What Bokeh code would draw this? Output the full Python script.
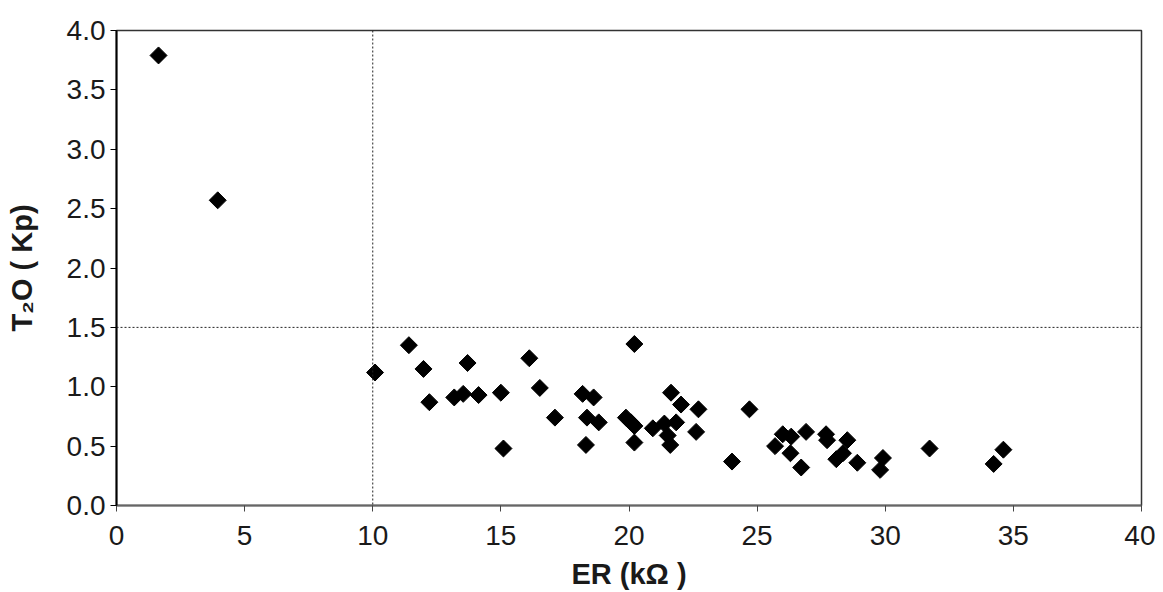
from bokeh.plotting import figure
from bokeh.models import Span, Range1d, SingleIntervalTicker, NumeralTickFormatter
from bokeh.embed import file_html
from bokeh.resources import INLINE
import math

er_kohm = [1.64, 3.95, 10.09, 11.41, 11.98, 12.21, 13.18, 13.53, 13.70, 14.13,
           15.00, 15.10, 16.11, 16.52, 17.11, 18.19, 18.62, 18.36, 18.82, 18.32,
           20.21, 19.88, 20.08, 20.21, 20.21, 20.93, 21.38, 21.64, 21.84, 22.03,
           21.51, 21.61, 22.71, 22.62, 24.02, 24.70, 25.70, 26.00, 26.33, 26.30,
           26.72, 26.91, 27.69, 27.73, 28.52, 28.09, 28.35, 28.91, 29.91, 29.80,
           31.73, 34.23, 34.61]
t2o_kp = [3.79, 2.57, 1.12, 1.35, 1.15, 0.87, 0.91, 0.94, 1.20, 0.93,
          0.95, 0.48, 1.24, 0.99, 0.74, 0.94, 0.91, 0.74, 0.70, 0.51,
          1.36, 0.74, 0.70, 0.67, 0.53, 0.65, 0.69, 0.95, 0.70, 0.85,
          0.59, 0.51, 0.81, 0.62, 0.37, 0.81, 0.50, 0.60, 0.58, 0.44,
          0.32, 0.62, 0.60, 0.55, 0.55, 0.39, 0.44, 0.36, 0.40, 0.30,
          0.48, 0.35, 0.47]
er_threshold = 10
t2o_threshold = 1.5

p = figure(width=1155, height=592, output_backend="svg", toolbar_location=None,
           frame_width=1025, frame_height=475,
           x_range=Range1d(0, 40), y_range=Range1d(0, 4.0),
           min_border_left=116, min_border_right=14, min_border_top=30,
           min_border_bottom=87)
p.grid.visible = False
p.background_fill_color = "white"
p.border_fill_color = "white"
p.outline_line_color = "#333333"
p.outline_line_width = 1.5

p.xaxis.ticker = SingleIntervalTicker(interval=5)
p.yaxis.ticker = SingleIntervalTicker(interval=0.5)
p.yaxis.formatter = NumeralTickFormatter(format="0.0")

for ax in (p.xaxis, p.yaxis):
    ax.minor_tick_line_color = None
    ax.major_tick_in = 0
    ax.major_tick_out = 6
    ax.major_label_text_font = "Liberation Sans"
    ax.major_label_text_font_size = "28px"
    ax.major_label_text_color = "#1a1a1a"
    ax.axis_label_text_font = "Liberation Sans"
    ax.axis_label_text_font_style = "bold"
    ax.axis_label_text_font_size = "29px"
    ax.axis_label_text_color = "#1a1a1a"
    ax.axis_line_width = 2

p.xaxis.axis_line_color = "#666666"
p.xaxis.major_tick_line_color = "#444444"
p.yaxis.axis_line_color = "black"
p.yaxis.major_tick_line_color = "black"
p.xaxis.major_label_standoff = 14
p.yaxis.major_label_standoff = 5
p.xaxis.axis_label = "ER (k\u03a9 )"
p.yaxis.axis_label = "T\u2082O ( Kp)"
p.xaxis.axis_label_standoff = 10
p.yaxis.axis_label_standoff = 26

p.add_layout(Span(location=er_threshold, dimension="height", line_color="#222222",
                  line_width=1, line_dash="2 2"))
p.add_layout(Span(location=t2o_threshold, dimension="width", line_color="#222222",
                  line_width=1, line_dash="2 2"))

p.scatter(er_kohm, t2o_kp, marker="square", size=12, angle=math.pi / 4,
          fill_color="black", line_color="black")

open("out.html", "w").write(file_html(p, INLINE))
